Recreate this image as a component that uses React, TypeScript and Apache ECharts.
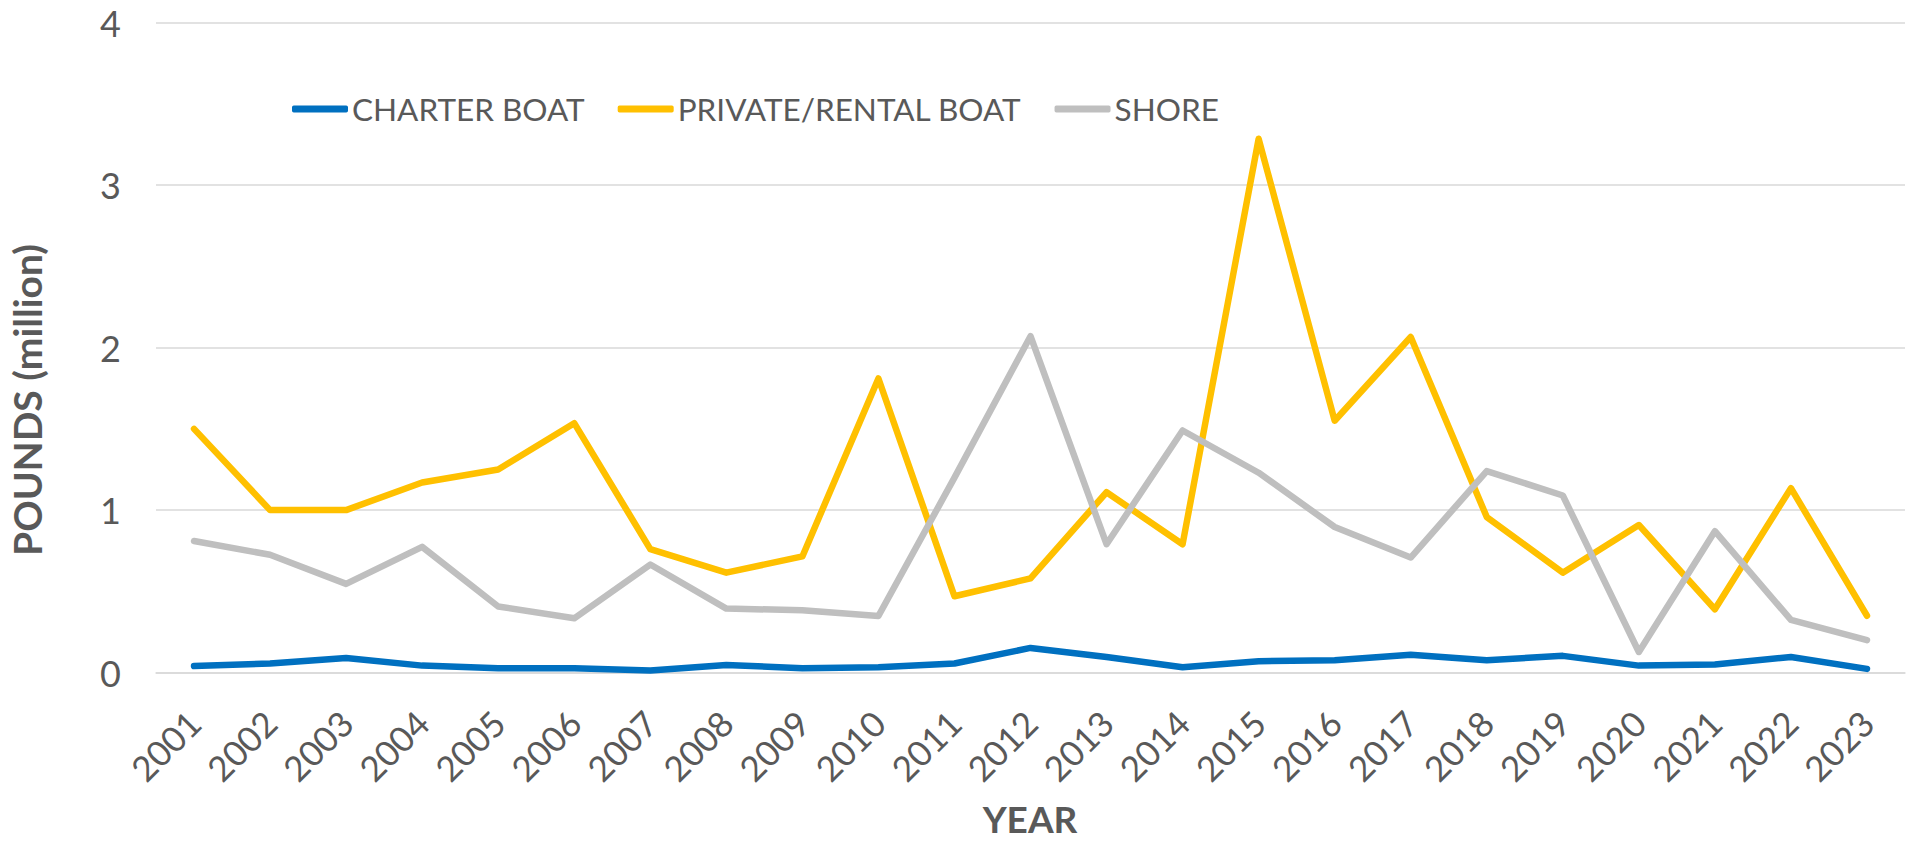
import React, { useEffect, useRef } from "react";
import * as echarts from "echarts";

// 年份 (x 轴类目)
const years = [
  "2001", "2002", "2003", "2004", "2005", "2006", "2007", "2008",
  "2009", "2010", "2011", "2012", "2013", "2014", "2015", "2016",
  "2017", "2018", "2019", "2020", "2021", "2022", "2023",
];

// 各系列数值 (百万磅)
const charterBoat = [
  0.04, 0.056, 0.09, 0.043, 0.027, 0.027, 0.013, 0.047, 0.027, 0.033, 0.056,
  0.152, 0.096, 0.033, 0.07, 0.076, 0.11, 0.076, 0.103, 0.043, 0.05, 0.096, 0.023,
];
const privateRentalBoat = [
  1.5, 1.0, 1.0, 1.17, 1.25, 1.535, 0.76, 0.615, 0.715, 1.81, 0.47, 0.58, 1.11,
  0.79, 3.285, 1.55, 2.065, 0.957, 0.615, 0.908, 0.39, 1.135, 0.35,
];
const shore = [
  0.81, 0.725, 0.546, 0.774, 0.407, 0.334, 0.665, 0.394, 0.384, 0.348, 1.2,
  2.07, 0.79, 1.49, 1.23, 0.896, 0.708, 1.24, 1.09, 0.127, 0.87, 0.324, 0.2,
];

const seriesNames = ["CHARTER BOAT", "PRIVATE/RENTAL BOAT", "SHORE"];
const seriesColors = ["#0070C0", "#FFC000", "#BFBFBF"];

const FONT = "Lato, 'Noto Sans', sans-serif";
const TEXT_COLOR = "#595959";

const App: React.FC = () => {
  const chartRef = useRef<HTMLDivElement>(null);

  useEffect(() => {
    document.body.style.margin = "0";
    const myChart = echarts.init(chartRef.current, null, { renderer: "svg" });

    const makeSeries = (name: string, data: number[], color: string) => ({
      name,
      type: "line" as const,
      data,
      symbol: "none",
      color,
      lineStyle: { color, width: 6.5, cap: "round", join: "round" },
    });

    const option: echarts.EChartsOption = {
      animation: false,
      grid: { left: 156, right: 3, top: 22.6, bottom: 170.4 },
      legend: {
        left: 292,
        top: 93,
        padding: 0,
        icon: "roundRect",
        itemWidth: 56,
        itemHeight: 7,
        itemGap: 33,
        textStyle: {
          color: TEXT_COLOR,
          fontFamily: FONT,
          fontSize: 31.5,
          padding: [0, 0, 0, -1],
        },
        data: seriesNames,
      },
      xAxis: {
        type: "category",
        data: years,
        boundaryGap: true,
        axisLine: { show: true, lineStyle: { color: "#D9D9D9", width: 1.5 } },
        axisTick: { show: false },
        axisLabel: {
          rotate: 45,
          margin: 44,
          color: TEXT_COLOR,
          fontFamily: FONT,
          fontSize: 35,
          interval: 0,
        },
      },
      yAxis: {
        type: "value",
        min: 0,
        max: 4,
        interval: 1,
        axisLine: { show: false },
        axisTick: { show: false },
        splitLine: { lineStyle: { color: "#D9D9D9", width: 1.5 } },
        axisLabel: {
          margin: 35,
          color: TEXT_COLOR,
          fontFamily: FONT,
          fontSize: 36,
        },
      },
      graphic: [
        {
          type: "text",
          x: 27,
          y: 400,
          rotation: Math.PI / 2,
          style: {
            text: "POUNDS (million)",
            fill: TEXT_COLOR,
            font: `bold 39px ${FONT}`,
            align: "center",
            verticalAlign: "middle",
          },
        },
        {
          type: "text",
          x: 1030,
          y: 818,
          style: {
            text: "YEAR",
            fill: TEXT_COLOR,
            font: `bold 37px ${FONT}`,
            align: "center",
            verticalAlign: "middle",
          },
        },
      ],
      series: [
        makeSeries(seriesNames[0], charterBoat, seriesColors[0]),
        makeSeries(seriesNames[1], privateRentalBoat, seriesColors[1]),
        makeSeries(seriesNames[2], shore, seriesColors[2]),
      ] as any,
    };

    myChart.setOption(option);
    return () => {
      myChart.dispose();
    };
  }, []);

  return <div ref={chartRef} style={{ width: 1908, height: 843 }} />;
};

export default App;
